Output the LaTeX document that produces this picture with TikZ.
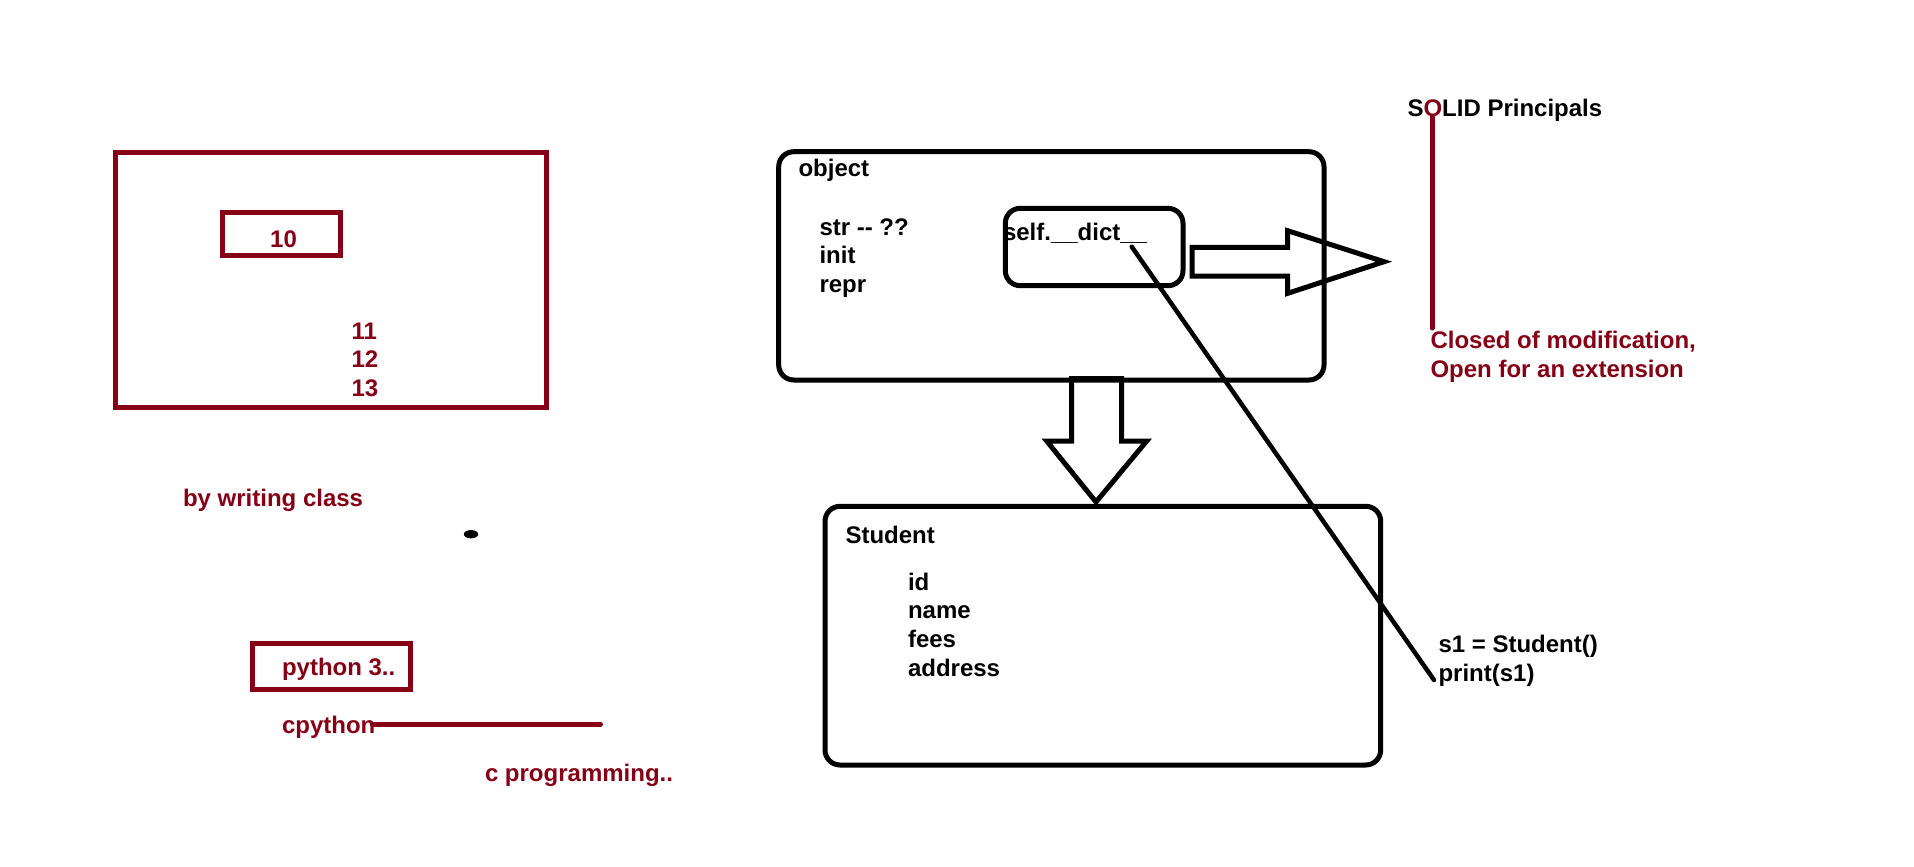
\documentclass[tikz,border=0pt]{standalone}
\usepackage{fontspec}
\setmainfont{Liberation Sans}
\usetikzlibrary{shapes.geometric}
\definecolor{pred}{RGB}{136,0,21}
\newcommand\myTopStrut{\rule{0pt}{20pt}}
\begin{document}
\begin{tikzpicture}[x=1pt,y=-1pt,
  txt/.style={inner sep=0pt, outer sep=0pt, font=\fontsize{24}{28.9}\selectfont\bfseries, align=left},
  rtxt/.style={txt, text=pred},
  btxt/.style={txt, text=black},
  rbox/.style={draw=pred, line width=5pt, inner sep=0pt, outer sep=0pt},
  bbox/.style={draw=black, line width=5pt, inner sep=0pt, outer sep=0pt, rounded corners=15pt},
  blockarrow/.style={draw=black, line width=5pt, line join=miter},
  redline/.style={draw=pred, line width=5pt, line cap=round},
  thinline/.style={draw=black, line width=4.5pt, line cap=round}]
\useasboundingbox[fill=white] (0,0) rectangle (1914,867);

% ---------- left part (dark red) ----------
\node[rbox, minimum width=431.7pt, minimum height=254.5pt] (outer) at (330.85,279.75) {};
\node[rbox, minimum width=117.5pt, minimum height=42.5pt] (box10) at (281.55,234.05) {};
\node[rtxt, anchor=base] (t10) at (283.5,247.3) {10};
\node[rtxt, anchor=north west] (tnums) at (351.5,319) {\myTopStrut 11\\12\\13};
\node[rtxt, anchor=base west] (twriting) at (183,506) {by writing class};
\node[ellipse, fill=black, inner sep=0pt, minimum width=14.4pt, minimum height=8.3pt] (dot) at (471,534.2) {};
\node[rbox, minimum width=158pt, minimum height=45.6pt] (boxpy) at (331.5,666.5) {};
\node[rtxt, anchor=base west] (tpython) at (282,675) {python 3..};
\node[rtxt, anchor=base west] (tcpython) at (282,733.3) {cpython};
\coordinate (cpl) at (372.5,724.3);
\coordinate (cpr) at (600.5,724.3);
\draw[redline] (cpl) -- (cpr);
\node[rtxt, anchor=base west] (tcprog) at (485,781.7) {c programming..};

% ---------- right part (black) ----------
\node[bbox, minimum width=545.3pt, minimum height=228.3pt] (objbox) at (1051.35,265.85) {};
\node[btxt, anchor=base west] (tobject) at (798.5,176.7) {object};
\node[btxt, anchor=north west] (tmeth) at (819.5,215) {\myTopStrut str -{}- ??\\init\\repr};
\node[bbox, minimum width=177.7pt, minimum height=77.4pt] (dictbox) at (1094.15,247) {};
\node[btxt, anchor=base west] (tdict) at (1003,240.7) {self.\_\_dict\_\_};

% right block arrow
\draw[blockarrow] (1192,247.3) -- (1287.7,247.3) -- (1287.7,230.7) -- (1384,261.7)
  -- (1287.7,293.3) -- (1287.7,276) -- (1192,276) -- cycle;

% down block arrow
\draw[blockarrow] (1071.7,378.7) -- (1121.7,378.7) -- (1121.7,441) -- (1146.7,441)
  -- (1096,502) -- (1046.7,441) -- (1071.7,441) -- cycle;

\node[bbox, minimum width=555.7pt, minimum height=258.7pt] (studbox) at (1102.85,635.65) {};
\node[btxt, anchor=base west] (tstudent) at (845.5,543.3) {Student};
\node[btxt, anchor=north west] (tfields) at (908,570) {\myTopStrut id\\name\\fees\\address};

\node[btxt, anchor=north west] (tcode) at (1438.5,632.7) {\myTopStrut s1 = Student()\\print(s1)};
\coordinate (dstart) at (1131.7,246.7);
\coordinate (dend) at (1434,680);
\draw[thinline] (dstart) -- (dend);

\node[btxt, anchor=base west] (tsolid) at (1407.5,116.7) {S\textcolor{pred}{O}LID Principals};
\coordinate (rtop) at (1432.3,117);
\coordinate (rbot) at (1432.3,328.3);
\draw[redline, line width=4.5pt] (rtop) -- (rbot);
\node[rtxt, anchor=north west] (tclosed) at (1430.5,328.3) {\myTopStrut Closed of modification,\\Open for an extension};
\end{tikzpicture}
\end{document}
